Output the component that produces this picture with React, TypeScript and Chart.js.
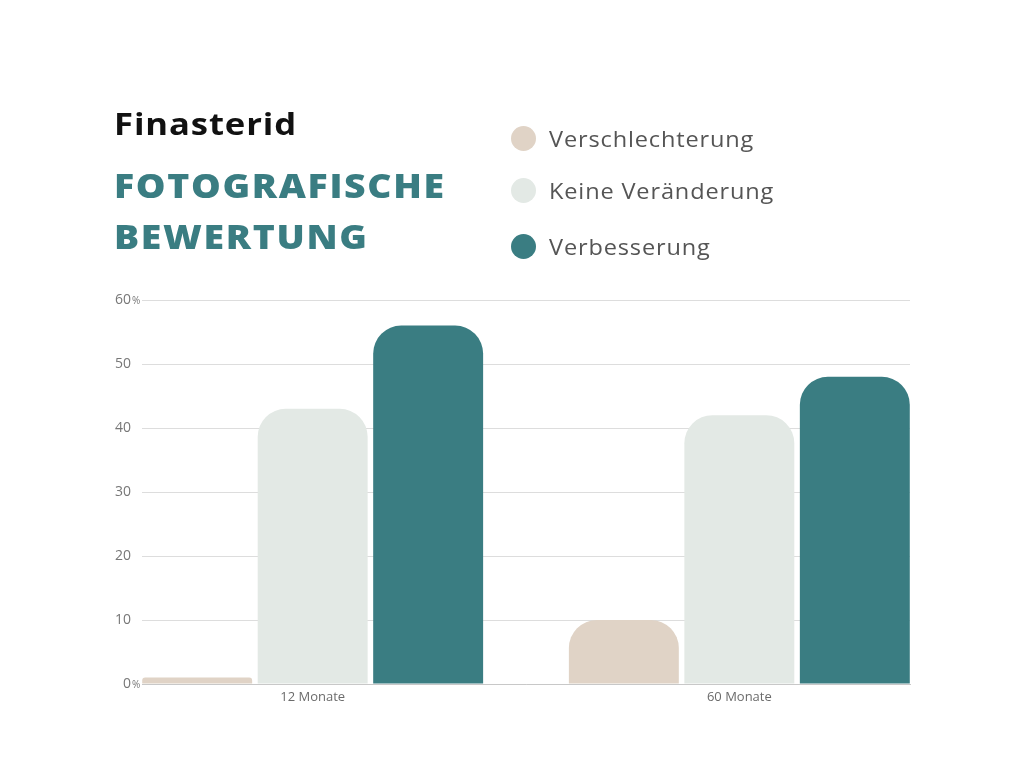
import React, { useEffect, useRef } from "react";
import { Chart, registerables } from "chart.js";

Chart.register(...registerables);

const categories = ["12 Monate", "60 Monate"];
const seriesNames = ["Verschlechterung", "Keine Veränderung", "Verbesserung"];
const seriesColors = ["#E0D3C6", "#E3E9E5", "#3A7D82"];
const verschlechterung = [1, 10];
const keineVeraenderung = [43, 42];
const verbesserung = [56, 48];
const yTickValues = [0, 10, 20, 30, 40, 50, 60];
const percentTicks = [0, 60];

const FONT = "'Open Sans', 'Noto Sans', sans-serif";

const percentPlugin = {
  id: "percentSuffix",
  afterDraw(chart: any) {
    const y = chart.scales.y;
    const ctx = chart.ctx;
    ctx.save();
    ctx.fillStyle = "#777";
    ctx.font = `10px ${FONT}`;
    ctx.textAlign = "left";
    ctx.textBaseline = "middle";
    percentTicks.forEach((v) => {
      ctx.fillText("%", chart.chartArea.left - 10, y.getPixelForValue(v) + 1);
    });
    ctx.restore();
  },
};

export default function App() {
  const ref = useRef<HTMLCanvasElement>(null);

  useEffect(() => {
    if (!ref.current) return;
    const series = [verschlechterung, keineVeraenderung, verbesserung];
    const chart = new Chart(ref.current, {
      type: "bar",
      data: {
        datasets: series.map((vals, s) => ({
          label: seriesNames[s],
          data: vals.map((v, i) => ({ x: i, y: v })),
          backgroundColor: seriesColors[s],
          borderWidth: 0,
          borderRadius: { topLeft: 28, topRight: 28, bottomLeft: 0, bottomRight: 0 },
          borderSkipped: "start",
          categoryPercentage: 0.812,
          barPercentage: 0.952,
        })),
      },
      options: {
        animation: false,
        responsive: false,
        devicePixelRatio: 1,
        layout: { padding: { left: 102, right: 114, top: 300, bottom: 54 } },
        plugins: {
          legend: { display: false },
          tooltip: { enabled: false },
        },
        scales: {
          x: {
            type: "linear",
            offset: false,
            min: -0.4,
            max: 1.4,
            grid: { display: false, drawTicks: false, offset: false },
            border: { display: true, color: "#c8c8c8", width: 1 },
            afterBuildTicks: (scale: any) => {
              scale.ticks = categories.map((_, i) => ({ value: i }));
            },
            afterFit: (scale: any) => {
              scale.height = 30;
            },
            ticks: {
              autoSkip: false,
              maxRotation: 0,
              padding: 5,
              color: "#6b6b6b",
              font: { family: FONT, size: 13 },
              callback: (v: any) => categories[Number(v)] ?? "",
            },
          },
          y: {
            min: 0,
            max: 60,
            afterBuildTicks: (scale: any) => {
              scale.ticks = yTickValues.map((v) => ({ value: v }));
            },
            afterFit: (scale: any) => {
              scale.width = 40;
            },
            grid: { color: "#dddddd", lineWidth: 1, drawTicks: false },
            border: { display: false },
            ticks: {
              padding: 11,
              color: "#777",
              font: { family: FONT, size: 14 },
              callback: (v: any) => String(v),
            },
          },
        },
      },
      plugins: [percentPlugin],
    });
    return () => chart.destroy();
  }, []);

  const stretch = (sx: number): React.CSSProperties => ({
    transform: `scaleX(${sx})`,
    transformOrigin: "left center",
  });

  return (
    <div
      style={{
        position: "fixed",
        left: 0,
        top: 0,
        width: 1024,
        height: 768,
        background: "#ffffff",
        overflow: "hidden",
      }}
    >
      <canvas ref={ref} width={1024} height={768} style={{ position: "absolute", left: 0, top: 0 }} />
      <div
        style={{
          position: "absolute",
          left: 114,
          top: 103,
          fontFamily: FONT,
          fontWeight: 700,
          fontSize: 31,
          color: "#111",
          lineHeight: "40px",
          letterSpacing: "0.8px",
          whiteSpace: "nowrap",
          ...stretch(1.117),
        }}
      >
        Finasterid
      </div>
      <div
        style={{
          position: "absolute",
          left: 114,
          top: 160,
          fontFamily: FONT,
          fontWeight: 800,
          fontSize: 34,
          color: "#3A7D82",
          lineHeight: "51px",
          letterSpacing: "1.5px",
          whiteSpace: "nowrap",
          ...stretch(1.1),
        }}
      >
        FOTOGRAFISCHE
        <br />
        BEWERTUNG
      </div>
      {seriesNames.map((name, i) => (
        <div
          key={name}
          style={{
            position: "absolute",
            left: 511,
            top: [138, 190, 246][i] - 15,
            height: 30,
            display: "flex",
            alignItems: "center",
            fontFamily: FONT,
            fontSize: 22,
            color: "#555",
            whiteSpace: "nowrap",
          }}
        >
          <span
            style={{
              display: "inline-block",
              width: 25,
              height: 25,
              borderRadius: "50%",
              background: seriesColors[i],
              marginRight: 13,
              flex: "none",
            }}
          />
          <span style={{ display: "inline-block", letterSpacing: "0.8px", ...stretch(1.07) }}>{name}</span>
        </div>
      ))}
    </div>
  );
}
